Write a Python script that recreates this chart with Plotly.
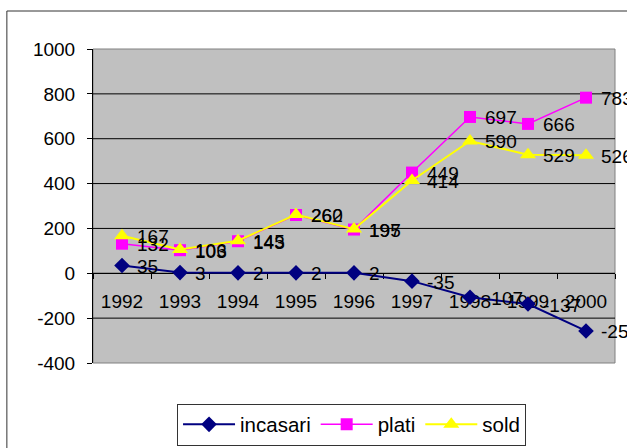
import plotly.graph_objects as go

years = ["1992", "1993", "1994", "1995", "1996", "1997", "1998", "1999", "2000"]
incasari = [35, 3, 2, 2, 2, -35, -107, -137, -257]
plati = [132, 103, 143, 260, 195, 449, 697, 666, 783]
sold = [167, 106, 145, 262, 197, 414, 590, 529, 526]
y_ticks = [-400, -200, 0, 200, 400, 600, 800, 1000]

FONT = "Liberation Sans, Arial, sans-serif"
FSIZE = 19

fig = go.Figure()

series = [
    ("incasari", incasari, "#000080", "diamond", 12, 2),
    ("plati", plati, "#FF00FF", "square", 12, 1.5),
    ("sold", sold, "#FFFF00", "triangle-up", 14, 2),
]
annotations = []
for name, vals, color, symbol, msize, lw in series:
    fig.add_trace(go.Scatter(
        x=years, y=vals, name=name,
        mode="lines+markers",
        line=dict(color=color, width=lw),
        marker=dict(symbol=symbol, size=msize, color=color),
        cliponaxis=False,
    ))
    # value labels to the right of each point (x given as category index)
    for i, v in enumerate(vals):
        annotations.append(dict(
            x=i, y=v, xref="x", yref="y", text=str(v),
            showarrow=False, xanchor="left", yanchor="middle",
            xshift=13, yshift=-1,
            font=dict(family=FONT, size=FSIZE, color="black"),
        ))

# horizontal gridlines inside the plot area (edges use the frame colour)
grid_shapes = [
    dict(type="line", xref="paper", yref="y", x0=0, x1=1, y0=t, y1=t,
         line=dict(color="black", width=1), layer="below")
    for t in y_ticks if t not in (y_ticks[0], y_ticks[-1])
]

fig.update_layout(
    width=627, height=448,
    margin=dict(l=93, r=12, t=49, b=85, autoexpand=False),
    paper_bgcolor="white",
    plot_bgcolor="#C0C0C0",
    font=dict(family=FONT, size=FSIZE, color="black"),
    showlegend=True,
    annotations=annotations,
    legend=dict(
        orientation="h",
        x=0.161, y=-0.129, xanchor="left", yanchor="top",
        bgcolor="white", bordercolor="#333333", borderwidth=1,
        itemwidth=52,
        font=dict(family=FONT, size=20.5, color="black"),
    ),
    xaxis=dict(
        type="category",
        range=[-0.5, 8.5],
        anchor="free", position=400 / 1400,
        showline=True, linecolor="black", linewidth=1,
        ticks="outside", ticklen=5, tickcolor="black",
        tickson="boundaries",
        ticklabelstandoff=11,
        showgrid=False,
        layer="below traces",
        tickfont=dict(family=FONT, size=FSIZE, color="black"),
    ),
    yaxis=dict(
        range=[-400, 1000],
        tickvals=y_ticks,
        ticktext=[str(t) for t in y_ticks],
        showline=True, linecolor="black", linewidth=1,
        ticks="outside", ticklen=5, tickcolor="black",
        ticklabelstandoff=8,
        showgrid=False,
        zeroline=False,
        layer="below traces",
        tickfont=dict(family=FONT, size=FSIZE, color="black"),
    ),
    shapes=[
        # plot-area frame
        dict(type="rect", xref="paper", yref="paper", x0=0, x1=1, y0=0, y1=1,
             line=dict(color="#808080", width=1), layer="below"),
        # chart-area frame
        dict(type="rect", xref="paper", yref="paper",
             x0=-0.165, x1=1.3, y0=-0.6, y1=1.121,
             line=dict(color="#333333", width=1), layer="below"),
    ] + grid_shapes,
)

fig.write_html("out.html")
